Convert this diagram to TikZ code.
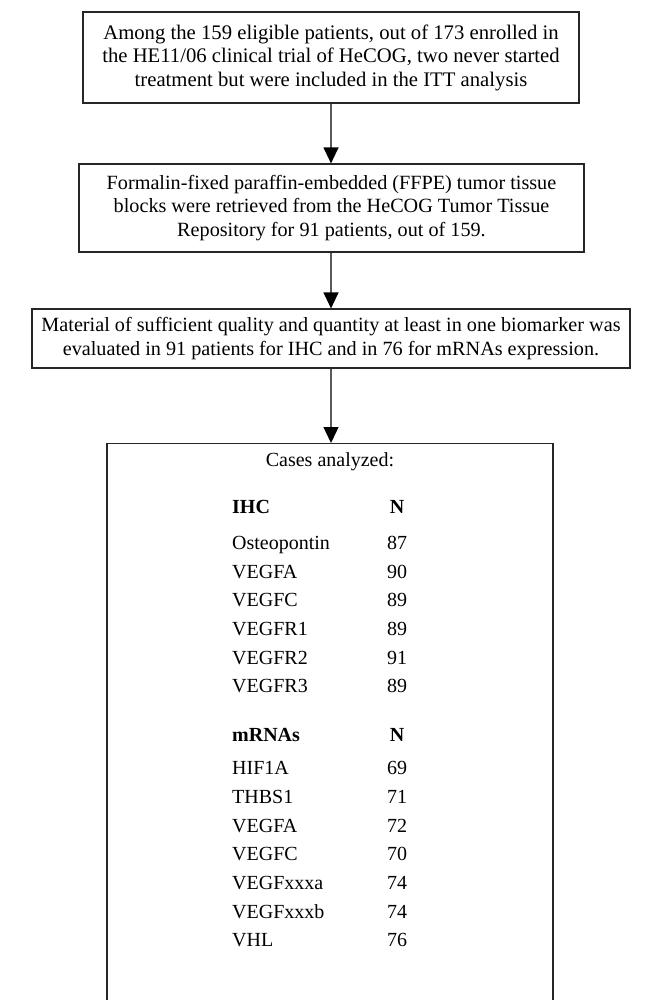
\documentclass[tikz,border=0pt]{standalone}
\usepackage{fontspec}
\setmainfont{Liberation Serif}
\usetikzlibrary{arrows.meta}
\begin{document}
\begin{tikzpicture}[x=1pt,y=-1pt,
  boxstyle/.style={draw=black!85, line width=1.2pt, rectangle, inner sep=0pt, align=center,
    font=\fontsize{20.2}{23.5}\selectfont},
  arr/.style={draw=black!65, line width=1.3pt, -{Triangle[width=15pt,length=16pt,black]}},
  cell/.style={anchor=base west, inner sep=0pt, font=\fontsize{20}{23}\selectfont},
  ncell/.style={anchor=base, inner sep=0pt, font=\fontsize{20}{23}\selectfont}]
\useasboundingbox (0,0) rectangle (649,1000);
\fill[white] (0,0) rectangle (649,1000);

\node[boxstyle, minimum width=496pt, minimum height=91pt, font=\fontsize{20.7}{23.5}\selectfont] (b1) at (331,57.5)
  {Among the 159 eligible patients, out of 173 enrolled in\\
   the HE11/06 clinical trial of HeCOG, two never started\\
   treatment but were included in the ITT analysis};

\node[boxstyle, minimum width=505pt, minimum height=88pt] (b2) at (331.5,208)
  {Formalin-fixed paraffin-embedded (FFPE) tumor tissue\\
   blocks were retrieved from the HeCOG Tumor Tissue\\
   Repository for 91 patients, out of 159.};

\node[boxstyle, minimum width=598pt, minimum height=59pt] (b3) at (331,338.5)
  {Material of sufficient quality and quantity at least in one biomarker was\\
   evaluated in 91 patients for IHC and in 76 for mRNAs expression.};

\node[boxstyle, minimum width=446pt, minimum height=570pt, anchor=north] (b4) at (330,443) {};

\draw[arr] (b1.south) -- (b1.south |- b2.north);
\draw[arr] (b2.south -| b1.south) -- (b1.south |- b3.north);
\draw[arr] (b3.south -| b1.south) -- (b1.south |- b4.north);

\node[ncell] (cases) at (330,466) {Cases analyzed:};

\node[cell] (ihc) at (232,513.6) {\bfseries IHC};
\node[ncell] (ihcn) at (397,513.6) {\bfseries N};
\node[cell] (r1) at (232,549.6) {Osteopontin};  \node[ncell] (n1) at (397,549.6) {87};
\node[cell] (r2) at (232,578.2) {VEGFA};        \node[ncell] (n2) at (397,578.2) {90};
\node[cell] (r3) at (232,606.8) {VEGFC};        \node[ncell] (n3) at (397,606.8) {89};
\node[cell] (r4) at (232,635.4) {VEGFR1};       \node[ncell] (n4) at (397,635.4) {89};
\node[cell] (r5) at (232,664.0) {VEGFR2};       \node[ncell] (n5) at (397,664.0) {91};
\node[cell] (r6) at (232,692.6) {VEGFR3};       \node[ncell] (n6) at (397,692.6) {89};

\node[cell] (mrna) at (232,741.6) {\bfseries mRNAs};
\node[ncell] (mrnan) at (397,741.6) {\bfseries N};
\node[cell] (m1) at (232,774.6) {HIF1A};        \node[ncell] (k1) at (397,774.6) {69};
\node[cell] (m2) at (232,803.3) {THBS1};        \node[ncell] (k2) at (397,803.3) {71};
\node[cell] (m3) at (232,832.0) {VEGFA};        \node[ncell] (k3) at (397,832.0) {72};
\node[cell] (m4) at (232,860.7) {VEGFC};        \node[ncell] (k4) at (397,860.7) {70};
\node[cell] (m5) at (232,889.4) {VEGFxxxa};     \node[ncell] (k5) at (397,889.4) {74};
\node[cell] (m6) at (232,918.1) {VEGFxxxb};     \node[ncell] (k6) at (397,918.1) {74};
\node[cell] (m7) at (232,946.8) {VHL};          \node[ncell] (k7) at (397,946.8) {76};
\end{tikzpicture}
\end{document}
